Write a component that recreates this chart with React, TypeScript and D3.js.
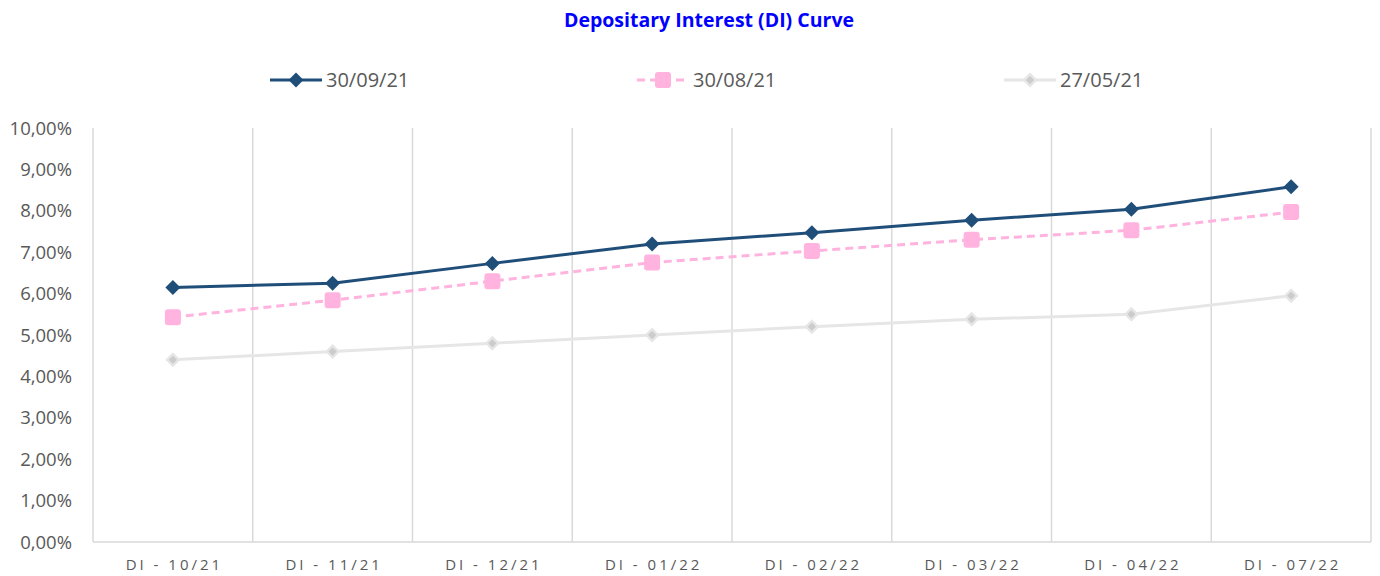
import React from 'react'
import * as d3 from 'd3'

// categories and series
const CATEGORIES = ['DI - 10/21', 'DI - 11/21', 'DI - 12/21', 'DI - 01/22', 'DI - 02/22', 'DI - 03/22', 'DI - 04/22', 'DI - 07/22']
const SERIES_NAMES = ['30/09/21', '30/08/21', '27/05/21']
const S_300921 = [6.15, 6.25, 6.73, 7.2, 7.47, 7.77, 8.04, 8.58]
const S_300821 = [5.43, 5.84, 6.3, 6.75, 7.03, 7.3, 7.53, 7.97]
const S_270521 = [4.4, 4.6, 4.8, 5.0, 5.2, 5.38, 5.5, 5.95]
const Y_TICKS = [0, 1, 2, 3, 4, 5, 6, 7, 8, 9, 10]

const FONT = 'Open Sans, Noto Sans, sans-serif'

const STYLES = [
  { color: '#1f4e79', width: 3, dash: null, marker: 'diamond', size: 7.5, inner: null },
  { color: '#ffb3de', width: 3, dash: '8,5', marker: 'square', size: 8, inner: null },
  { color: '#e6e6e6', width: 3, dash: null, marker: 'diamond', size: 7.5, inner: '#cccccc' },
]

function Marker({ x, y, s }: { x: number; y: number; s: any }) {
  if (s.marker === 'square') {
    return <rect x={x - s.size} y={y - s.size} width={s.size * 2} height={s.size * 2} rx={3} fill={s.color} />
  }
  const d = (r: number) => `M${x},${y - r}L${x + r},${y}L${x},${y + r}L${x - r},${y}Z`
  return (
    <g>
      <path d={d(s.size)} fill={s.color} />
      {s.inner && <path d={d(s.size * 0.55)} fill={s.inner} />}
    </g>
  )
}

export default function App() {
  const width = 1380
  const height = 576
  const margin = { top: 128, right: 9, bottom: 34, left: 93 }

  const x = d3.scaleBand().domain(CATEGORIES).range([margin.left, width - margin.right]).padding(0)
  const y = d3.scaleLinear().domain([0, 10]).range([height - margin.bottom, margin.top])
  const cx = (c: string) => (x(c) as number) + x.bandwidth() / 2

  const data = [S_300921, S_300821, S_270521]
  const line = d3.line<number>().x((_, i) => cx(CATEGORIES[i])).y(v => y(v))

  const legendX = [270, 637, 1004]

  return (
    <svg width={width} height={height} style={{ position: 'absolute', left: 0, top: 0 }} fontFamily={FONT}>
      <rect width={width} height={height} fill="#fff" />
      <text x={709} y={27} textAnchor="middle" fontWeight="bold" fontSize={19.5} fill="#0000ff">
        Depositary Interest (DI) Curve
      </text>

      {/* legend */}
      {SERIES_NAMES.map((name, i) => {
        const s = STYLES[i]
        const lx = legendX[i]
        return (
          <g key={name}>
            <line x1={lx} x2={lx + 52} y1={80} y2={80} stroke={s.color} strokeWidth={s.width} strokeDasharray={s.dash || undefined} />
            <Marker x={lx + 26} y={80} s={s} />
            <text x={lx + 56} y={87} fontSize={20} fill="#595959">{name}</text>
          </g>
        )
      })}

      {/* vertical gridlines at category boundaries */}
      {CATEGORIES.map(c => (
        <line key={c} x1={(x(c) as number) + x.bandwidth()} x2={(x(c) as number) + x.bandwidth()}
          y1={margin.top} y2={height - margin.bottom} stroke="#d9d9d9" strokeWidth={1.5} />
      ))}
      <line x1={margin.left} x2={margin.left} y1={margin.top} y2={height - margin.bottom} stroke="#d9d9d9" strokeWidth={1.5} />
      <line x1={margin.left} x2={width - margin.right} y1={y(0)} y2={y(0)} stroke="#d9d9d9" strokeWidth={1.5} />

      {/* y axis labels */}
      {Y_TICKS.map(t => (
        <text key={t} x={72} y={y(t) + 6.5} textAnchor="end" fontSize={18.5} fill="#595959">
          {t.toFixed(2).replace('.', ',')}%
        </text>
      ))}

      {/* x axis labels */}
      {CATEGORIES.map(c => (
        <text key={c} x={cx(c) + 1.5} y={570} textAnchor="middle" fontSize={15} letterSpacing={3} fill="#595959">{c}</text>
      ))}

      {/* series, drawn back to front */}
      {[2, 1, 0].map(i => {
        const s = STYLES[i]
        return (
          <g key={i}>
            <path d={line(data[i]) as string} fill="none" stroke={s.color} strokeWidth={s.width} strokeDasharray={s.dash || undefined} />
            {data[i].map((v, j) => <Marker key={j} x={cx(CATEGORIES[j])} y={y(v)} s={s} />)}
          </g>
        )
      })}
    </svg>
  )
}
